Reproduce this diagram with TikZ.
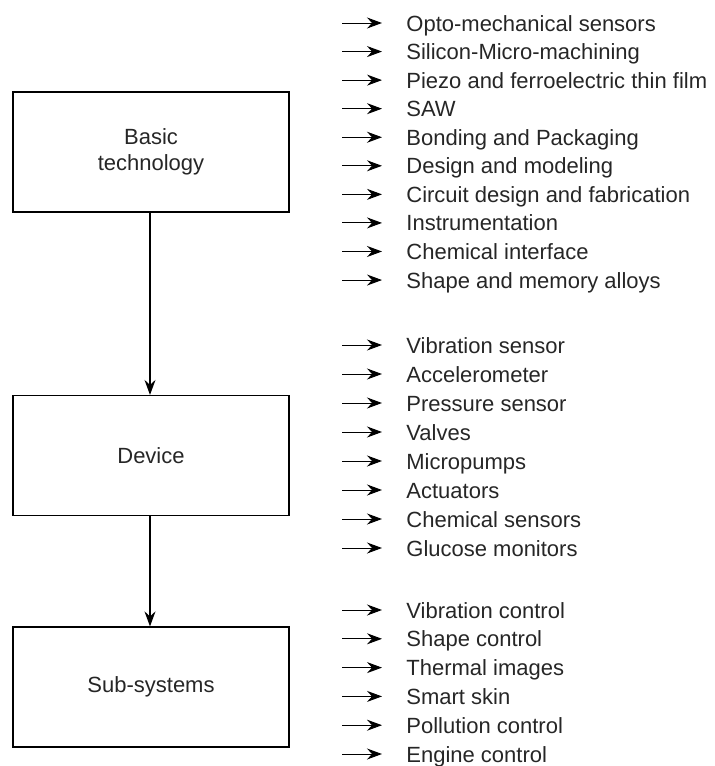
\documentclass[tikz,border=0pt]{standalone}
\usepackage{fontspec}
\setmainfont{Liberation Sans}
\usetikzlibrary{arrows.meta}

\tikzset{
  stage/.style={draw,line width=0.6pt,minimum width=138pt,minimum height=60pt,
    inner sep=0pt,align=center,font=\fontsize{11}{13}\selectfont,text=black!85},
  item/.style={anchor=west,inner ysep=0pt,inner xsep=12pt,text height=8pt,
    text depth=0pt,font=\fontsize{11}{13}\selectfont,text=black!85},
  itemarrow/.style={-{Stealth[length=7.5pt,width=5.5pt,inset=2.5pt]},line width=0.5pt},
  flow/.style={-{Stealth[length=7.5pt,width=5.5pt,inset=2.5pt]},line width=0.6pt}
}

\begin{document}
\begin{tikzpicture}[x=0.5pt,y=-0.5pt]
\useasboundingbox (0,0) rectangle (715,766);

\node[stage] (basic) at (151,152) {Basic\\technology};
\node[stage] (device) at (151,455.5) {Device};
\node[stage] (subsys) at (151,687) {Sub-systems};

\draw[flow] (basic.south -| 150,0) -- (device.north -| 150,0);
\draw[flow] (device.south -| 150,0) -- (subsys.north -| 150,0);

% basic technology
\foreach \t [count=\i] in {Opto-mechanical sensors,Silicon-Micro-machining,
    Piezo and ferroelectric thin film,SAW,Bonding and Packaging,
    Design and modeling,Circuit design and fabrication,Instrumentation,
    Chemical interface,Shape and memory alloys}{
  \coordinate (bs\i) at (342,{23+28.56*(\i-1)});
  \node[item] (bt\i) at (382,{23+28.56*(\i-1)}) {\t};
  \draw[itemarrow] (bs\i) -- (bt\i.west);
}

% devices
\foreach \t [count=\i] in {Vibration sensor,Accelerometer,Pressure sensor,
    Valves,Micropumps,Actuators,Chemical sensors,Glucose monitors}{
  \coordinate (ds\i) at (342,{345+29*(\i-1)});
  \node[item] (dt\i) at (382,{345+29*(\i-1)}) {\t};
  \draw[itemarrow] (ds\i) -- (dt\i.west);
}

% sub-systems
\foreach \t [count=\i] in {Vibration control,Shape control,Thermal images,
    Smart skin,Pollution control,Engine control}{
  \coordinate (ss\i) at (342,{610+28.8*(\i-1)});
  \node[item] (st\i) at (382,{610+28.8*(\i-1)}) {\t};
  \draw[itemarrow] (ss\i) -- (st\i.west);
}
\end{tikzpicture}
\end{document}
